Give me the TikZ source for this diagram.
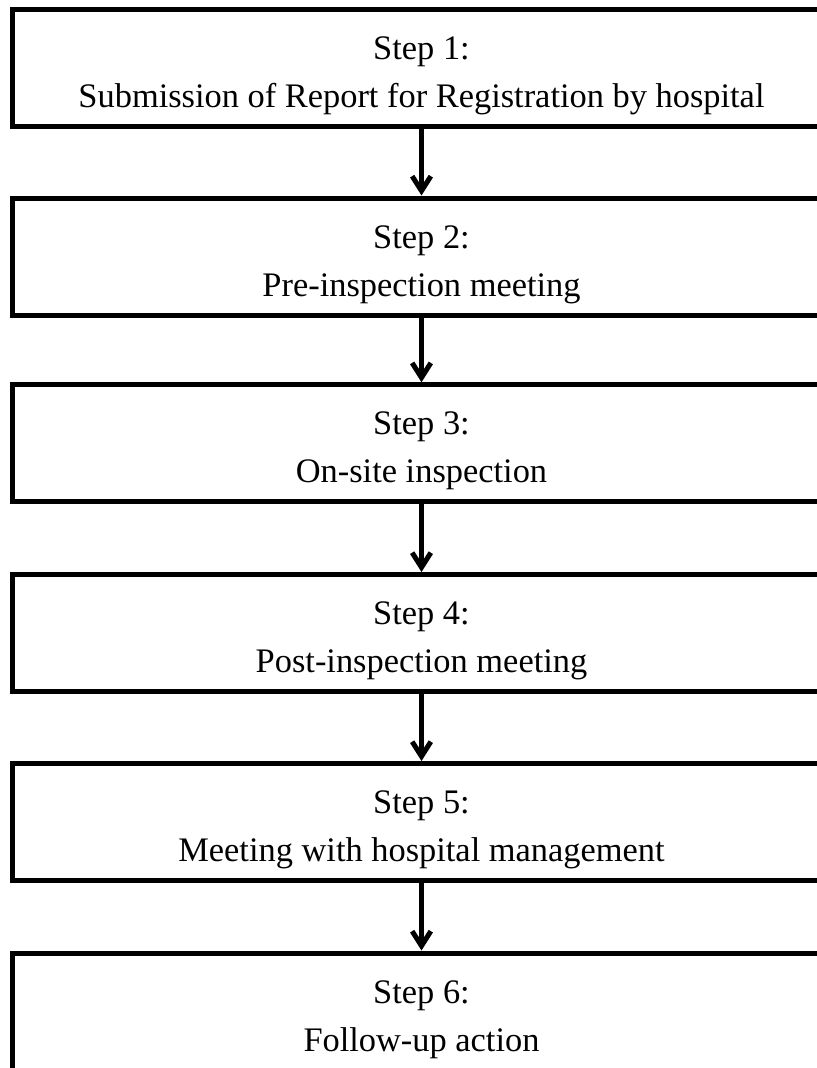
\documentclass[tikz,border=0pt]{standalone}
\usepackage{fontspec}
\setmainfont{Liberation Serif}
\usetikzlibrary{arrows.meta}

% extra room above the first line, so the text sits a bit low in its box
\newcommand{\steptop}{\rule{0pt}{29pt}}

\tikzset{
  stepbox/.style={draw, line width=3.75pt, minimum width=614.25pt,
    minimum height=87.75pt, align=center, inner sep=0pt,
    font=\fontsize{25.8pt}{36pt}\selectfont},
  flow/.style={line width=3.75pt, -{Straight Barb[length=11pt,width=14pt]}}
}

\begin{document}
\begin{tikzpicture}[x=0.75pt,y=-0.75pt]
    \useasboundingbox (0,0) rectangle (817,1068);
    \clip (0,0) rectangle (817,1068);
    %% Draw the steps
    \node[stepbox] (S1) at (421.5,67.75) {\steptop Step 1:\\Submission of Report for Registration by hospital};
    \node[stepbox] (S2) at (421.5,256.5) {\steptop Step 2:\\Pre-inspection meeting};
    \node[stepbox] (S3) at (421.5,443.25) {\steptop Step 3:\\On-site inspection};
    \node[stepbox] (S4) at (421.5,633) {\steptop Step 4:\\Post-inspection meeting};
    \node[stepbox] (S5) at (421.5,822) {\steptop Step 5:\\Meeting with hospital management};
    \node[stepbox] (S6) at (421.5,1011.5) {\steptop Step 6:\\Follow-up action};
    %% Draw the arrows
    \begin{scope}[every path/.style={flow}]
      \draw (S1) -- (S2);
      \draw (S2) -- (S3);
      \draw (S3) -- (S4);
      \draw (S4) -- (S5);
      \draw (S5) -- (S6);
    \end{scope}
  \end{tikzpicture}
\end{document}
